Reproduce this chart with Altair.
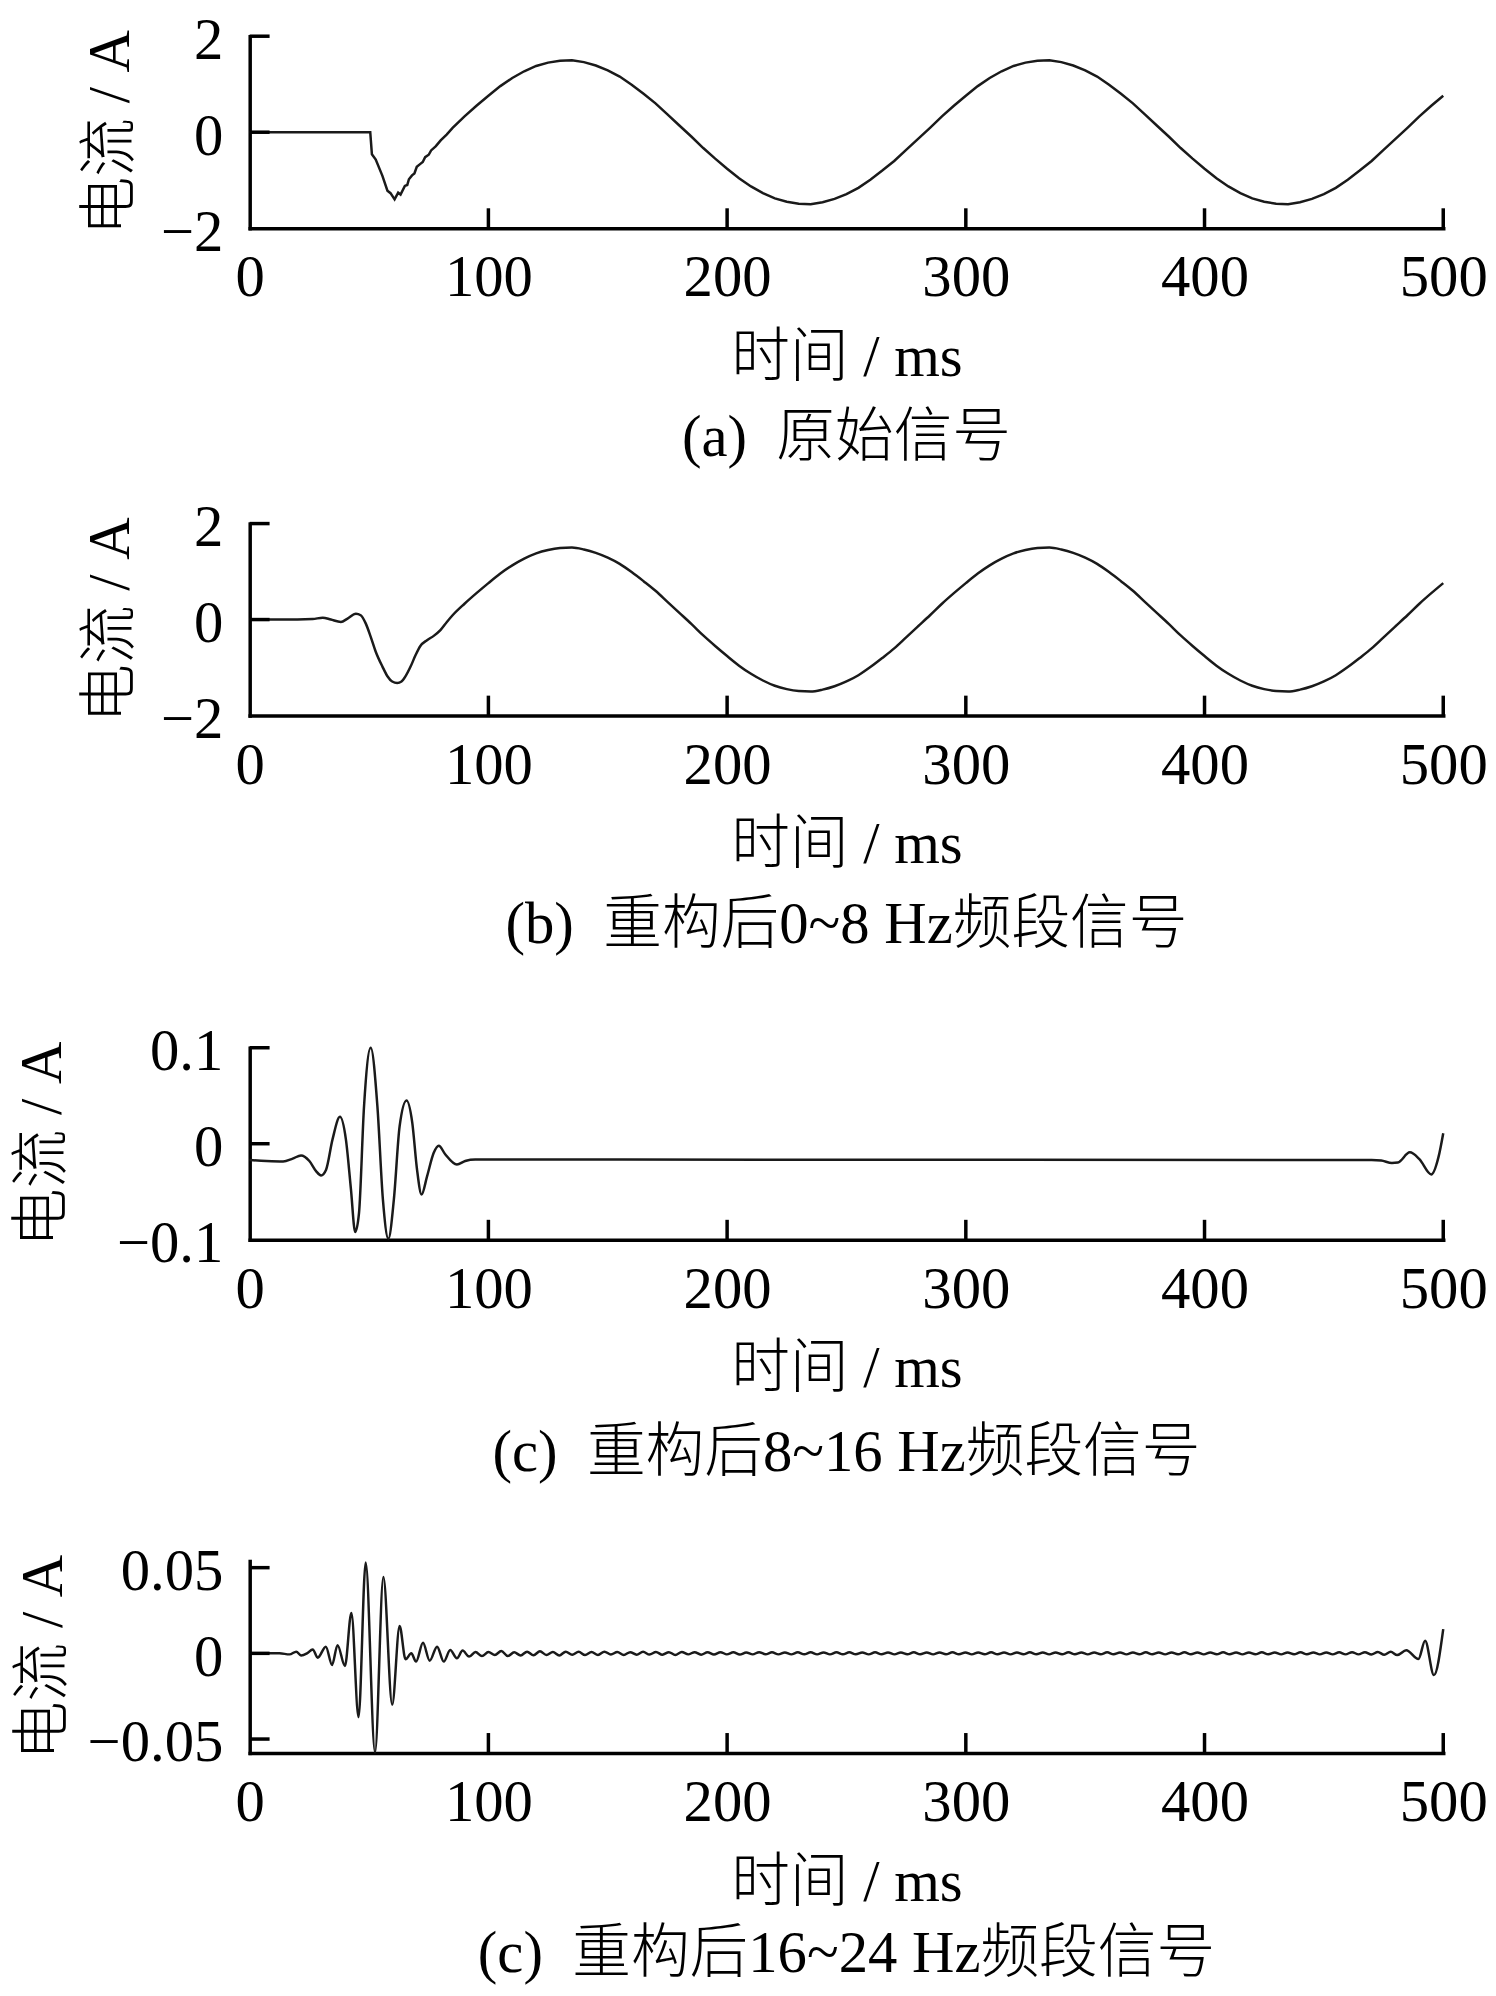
import altair as alt
import pandas as pd

FONT = "Liberation Serif, Noto Sans CJK SC"
FS = 59
W = 1200
H = 193
TICK_PX = 20
LINE = "#1a1a1a"

X_TICKS = [0, 100, 200, 300, 400, 500]
X_INNER = [100, 200, 300, 400, 500]

# ---------------- panel (a) original signal ----------------
T_A = [0, 50.5, 51.2, 52.8, 55.6, 57.7, 59.0, 60.7, 62.2, 63.2, 65.0, 66.0, 66.7, 68.0, 69.0,
       70.0, 71.5, 72.5, 73.5, 75.0, 76.0, 78.0, 80.0, 82.5,
       85, 90, 95, 100, 105, 110, 115, 120, 125, 130, 135, 140, 145, 150, 155, 160, 165, 170,
       175, 180, 185, 190, 195, 200, 205, 210, 215, 220, 225, 230, 235, 240, 245, 250, 255,
       260, 265, 270, 275, 280, 285, 290, 295, 300, 305, 310, 315, 320, 325, 330, 335, 340,
       345, 350, 355, 360, 365, 370, 375, 380, 385, 390, 395, 400, 405, 410, 415, 420, 425,
       430, 435, 440, 445, 450, 455, 460, 465, 470, 475, 480, 485, 490, 495, 500]
V_A = [0, 0, -0.46, -0.57, -0.91, -1.22, -1.27, -1.40, -1.26, -1.30, -1.12, -1.10, -0.98, -0.90, -0.86,
       -0.72, -0.66, -0.62, -0.52, -0.47, -0.38, -0.29, -0.17, -0.05,
       0.09, 0.33, 0.55, 0.76, 0.96, 1.13, 1.27, 1.38, 1.45, 1.49, 1.50, 1.46, 1.39, 1.29, 1.16,
       0.99, 0.80, 0.60, 0.37, 0.14, -0.09, -0.33, -0.55, -0.76, -0.96, -1.13, -1.27, -1.38,
       -1.45, -1.49, -1.50, -1.46, -1.39, -1.29, -1.16, -0.99, -0.80, -0.60, -0.37, -0.14,
       0.09, 0.33, 0.55, 0.76, 0.96, 1.13, 1.27, 1.38, 1.45, 1.49, 1.50, 1.46, 1.39, 1.29, 1.16,
       0.99, 0.80, 0.60, 0.37, 0.14, -0.09, -0.33, -0.55, -0.76, -0.96, -1.13, -1.27, -1.38,
       -1.45, -1.49, -1.50, -1.46, -1.39, -1.29, -1.16, -0.99, -0.80, -0.60, -0.37, -0.14,
       0.09, 0.33, 0.55, 0.76]

# ---------------- panel (b) 0~8 Hz ----------------
T_B = [0, 10, 20, 26.4, 30.6, 34.0, 38.2, 41.0, 44.5, 46.5, 48.6, 50.7, 52.8, 55.6, 57.7, 59.7,
       61.8, 63.6, 65.3, 67.4, 69.5, 71.5, 74.3, 77.1, 79.9, 82.6,
       85, 90, 95, 100, 105, 110, 115, 120, 125, 130, 135, 140, 145, 150, 155, 160, 165, 170,
       175, 180, 185, 190, 195, 200, 205, 210, 215, 220, 225, 230, 235, 240, 245, 250, 255,
       260, 265, 270, 275, 280, 285, 290, 295, 300, 305, 310, 315, 320, 325, 330, 335, 340,
       345, 350, 355, 360, 365, 370, 375, 380, 385, 390, 395, 400, 405, 410, 415, 420, 425,
       430, 435, 440, 445, 450, 455, 460, 465, 470, 475, 480, 485, 490, 495, 500]
V_B = [0, 0, 0, 0.01, 0.04, 0.0, -0.05, 0.02, 0.12, 0.09, -0.08, -0.36, -0.67, -0.98, -1.18, -1.29,
       -1.32, -1.29, -1.18, -0.98, -0.74, -0.55, -0.43, -0.34, -0.22, -0.05,
       0.09, 0.33, 0.55, 0.76, 0.96, 1.13, 1.27, 1.38, 1.45, 1.49, 1.50, 1.46, 1.39, 1.29, 1.16,
       0.99, 0.80, 0.60, 0.37, 0.14, -0.09, -0.33, -0.55, -0.76, -0.96, -1.13, -1.27, -1.38,
       -1.45, -1.49, -1.50, -1.46, -1.39, -1.29, -1.16, -0.99, -0.80, -0.60, -0.37, -0.14,
       0.09, 0.33, 0.55, 0.76, 0.96, 1.13, 1.27, 1.38, 1.45, 1.49, 1.50, 1.46, 1.39, 1.29, 1.16,
       0.99, 0.80, 0.60, 0.37, 0.14, -0.09, -0.33, -0.55, -0.76, -0.96, -1.13, -1.27, -1.38,
       -1.45, -1.49, -1.50, -1.46, -1.39, -1.29, -1.16, -0.99, -0.80, -0.60, -0.37, -0.14,
       0.09, 0.33, 0.55, 0.76]

# ---------------- panel (c) 8~16 Hz ----------------
T_C = [0, 7, 14, 18, 21.5, 25, 27.8, 29.9, 32, 34.7, 37.8, 40.3, 42.4, 44.2, 45.8, 47.9, 50.7,
       53.5, 55.8, 58.1, 60.4, 62.8, 65.7, 68.1, 70.1, 72.0, 74.3, 77.1, 79.2, 81.9, 86.8, 90.3,
       94.5, 470, 474, 478.5, 481, 486, 490, 495, 498, 500]
V_C = [-0.017, -0.018, -0.0185, -0.0155, -0.0122, -0.018, -0.0285, -0.033, -0.027, 0.0045, 0.028,
       0.0045, -0.047, -0.092, -0.072, 0.039, 0.100, 0.039, -0.058, -0.099, -0.058, 0.018, 0.045,
       0.022, -0.027, -0.053, -0.034, -0.0094, -0.002, -0.011, -0.0217, -0.018, -0.0165, -0.017,
       -0.0175, -0.020, -0.0195, -0.009, -0.016, -0.032, -0.014, 0.011]

# ---------------- panel (d) 16~24 Hz ----------------
T_D = [0, 8.5, 12.5, 16.7, 19.5, 21.5, 24.0, 26.4, 28.5, 31.9, 34.5, 36.8, 39.9, 42.6, 45.6, 48.6,
       52.5, 56.0, 59.7, 62.8, 65.3, 67.7, 69.7, 72.6, 75.4, 78.5, 81.3, 84.0, 86.8,
       89.2, 91.9, 94.6, 97.3, 100.0, 102.7, 105.4, 108.1, 110.8, 113.5,
       116.2, 118.9, 121.6, 124.3, 127.0, 129.7, 132.4, 135.1, 137.8, 140.5,
       143.2, 145.9, 148.6, 151.3, 154.0, 156.7, 159.4, 162.1, 164.8, 167.5,
       170.2, 172.9, 175.6, 178.3, 181.0, 183.7, 186.4, 189.1, 191.8, 194.5,
       197.2, 199.9, 202.6, 205.3, 208.0, 210.7, 213.4, 216.1, 218.8, 221.5,
       224.2, 226.9, 229.6, 232.3, 235.0, 237.7, 240.4, 243.1, 245.8, 248.5,
       251.2, 253.9, 256.6, 259.3, 262.0, 264.7, 267.4, 270.1, 272.8, 275.5,
       278.2, 280.9, 283.6, 286.3, 289.0, 291.7, 294.4, 297.1, 299.8, 302.5,
       305.2, 307.9, 310.6, 313.3, 316.0, 318.7, 321.4, 324.1, 326.8, 329.5,
       332.2, 334.9, 337.6, 340.3, 343.0, 345.7, 348.4, 351.1, 353.8, 356.5,
       359.2, 361.9, 364.6, 367.3, 370.0, 372.7, 375.4, 378.1, 380.8, 383.5,
       386.2, 388.9, 391.6, 394.3, 397.0, 399.7, 402.4, 405.1, 407.8, 410.5,
       413.2, 415.9, 418.6, 421.3, 424.0, 426.7, 429.4, 432.1, 434.8, 437.5,
       440.2, 442.9, 445.6, 448.3, 451.0, 453.7, 456.4, 459.1, 461.8, 464.5,
       467.2, 469.9, 472.6, 475.3, 478.0, 480.7,
       484.5, 489.6, 492.4, 496.1, 500]
V_D = [0, 0, 0, -0.0006, 0.0010, -0.0012, 0, 0.0023, -0.0025, 0.0039, -0.0068, 0.0048, -0.0074,
       0.0236, -0.0372, 0.0530, -0.0578, 0.0446, -0.0300, 0.0159, -0.0035, 0, -0.0048, 0.0062,
       -0.0043, 0.0039, -0.0048, 0.0019, -0.0029,
       0.0016, -0.0019, 0.0008, -0.0016, 0.0008, -0.0010, 0.0014, -0.0016, 0.0006, -0.0012,
       0.0010, -0.0011, 0.0012, -0.0009, 0.0008, -0.0012, 0.0010, -0.0008, 0.0009, -0.0010,
       0.0008, -0.0009, 0.0010, -0.0007, 0.0008, -0.0009, 0.0007, -0.0008, 0.0009, -0.0007,
       0.0008, -0.0008, 0.0007, -0.0009, 0.0008, -0.0006, 0.0007, -0.0008, 0.0006, -0.0007,
       0.0007, -0.0006, 0.0006, -0.0007, 0.0005, -0.0006, 0.0007, -0.0005, 0.0006, -0.0006,
       0.0005, -0.0006, 0.0006, -0.0005, 0.0006, -0.0006, 0.0005, -0.0006, 0.0006, -0.0005,
       0.0006, -0.0005, 0.0005, -0.0006, 0.0006, -0.0005, 0.0005, -0.0006, 0.0005, -0.0005,
       0.0006, -0.0005, 0.0005, -0.0006, 0.0005, -0.0005, 0.0006, -0.0005, 0.0005, -0.0006,
       0.0005, -0.0005, 0.0006, -0.0005, 0.0005, -0.0006, 0.0005, -0.0005, 0.0006, -0.0005,
       0.0005, -0.0006, 0.0005, -0.0005, 0.0006, -0.0005, 0.0005, -0.0006, 0.0005, -0.0005,
       0.0006, -0.0005, 0.0005, -0.0006, 0.0005, -0.0005, 0.0006, -0.0005, 0.0005, -0.0006,
       0.0005, -0.0005, 0.0006, -0.0005, 0.0005, -0.0006, 0.0005, -0.0005, 0.0006, -0.0005,
       0.0005, -0.0006, 0.0005, -0.0005, 0.0006, -0.0005, 0.0005, -0.0006, 0.0005, -0.0005,
       0.0006, -0.0005, 0.0005, -0.0006, 0.0005, -0.0006, 0.0006, -0.0006, 0.0007, -0.0006,
       0.0007, -0.0007, 0.0008, -0.0008, 0.0009, -0.0010,
       0.0018, -0.0033, 0.0074, -0.0127, 0.0141]

PANELS = [
    dict(t=T_A, v=V_A, dom=[-2, 2], vals=[-2, 0, 2], inner=[2, 0],
         cap="(a)\u00a0\u00a0原始信号", tx=-139.5, ext=0, off=22, interp="linear"),
    dict(t=T_B, v=V_B, dom=[-2, 2], vals=[-2, 0, 2], inner=[2, 0],
         cap="(b)\u00a0\u00a0重构后0~8 Hz频段信号", tx=-139.5, ext=56, off=22, interp="monotone"),
    dict(t=T_C, v=V_C, dom=[-0.1, 0.1], vals=[-0.1, 0, 0.1], inner=[0.1, 0],
         cap="(c)\u00a0\u00a0重构后8~16 Hz频段信号", tx=-208, ext=93, off=25.5, interp="monotone"),
    dict(t=T_D, v=V_D, dom=[-0.0581, 0.0539], vals=[-0.05, 0, 0.05], inner=[0.05, 0, -0.05],
         cap="(c)\u00a0\u00a0重构后16~24 Hz频段信号", tx=-207, ext=78, off=13, interp="monotone"),
]


def panel(p):
    df = pd.DataFrame({"t": p["t"], "v": p["v"]})
    y0, y1 = p["dom"]
    span = y1 - y0
    xs = alt.Scale(domain=[0, 500], nice=False, zero=False)
    ys = alt.Scale(domain=p["dom"], nice=False, zero=False)
    xaxis = alt.Axis(values=X_TICKS, title="时间 / ms", titleX=W / 2, titleY=130,
                     titleAlign="center", titleBaseline="middle")
    yaxis = alt.Axis(values=p["vals"], format="~g", title="电流 / A",
                     titleX=p["tx"], titleY=H / 2, titleAngle=270,
                     titleAlign="center", titleBaseline="middle")
    line = alt.Chart(df).mark_line(color=LINE, strokeWidth=2.5, interpolate=p["interp"]).encode(
        x=alt.X("t:Q", scale=xs, axis=xaxis),
        y=alt.Y("v:Q", scale=ys, axis=yaxis),
    )
    # inward x ticks
    xt_df = pd.DataFrame({"t": X_INNER})
    xt_df["ya"] = y0
    xt_df["yb"] = y0 + span * TICK_PX / H
    xt = alt.Chart(xt_df).mark_rule(color="black", strokeWidth=3.5).encode(
        x=alt.X("t:Q", scale=xs, axis=xaxis),
        y=alt.Y("ya:Q", scale=ys, axis=yaxis),
        y2="yb:Q",
    )
    # inward y ticks
    yt_df = pd.DataFrame({"v": p["inner"]})
    yt_df["xa"] = 0
    yt_df["xb"] = 500 * TICK_PX / W
    yt = alt.Chart(yt_df).mark_rule(color="black", strokeWidth=3.5).encode(
        x=alt.X("xa:Q", scale=xs, axis=xaxis),
        x2="xb:Q",
        y=alt.Y("v:Q", scale=ys, axis=yaxis),
    )
    layers = [line, xt, yt]
    if p["ext"] > 0:
        spacer = alt.Chart(pd.DataFrame({"s": [0]})).mark_rule(strokeOpacity=0, strokeWidth=0).encode(
            x=alt.value(0), y=alt.value(-p["ext"]), y2=alt.value(0)
        )
        layers.append(spacer)
    return alt.layer(*layers).properties(
        width=W, height=H,
        title=alt.TitleParams(p["cap"], orient="bottom", anchor="middle", frame="group",
                              offset=p["off"], font=FONT, fontSize=FS, fontWeight=300,
                              color="black"),
    )


chart = alt.vconcat(*[panel(p) for p in PANELS], spacing=0).properties(
    padding={"left": 6, "top": -2, "right": 0, "bottom": 4},
    background="white",
).configure_view(
    stroke="transparent", strokeWidth=0
).configure_axis(
    labelFont=FONT, titleFont=FONT, labelFontSize=FS, titleFontSize=FS,
    labelColor="black", titleColor="black", titleFontWeight=300, labelFontWeight=300,
    domainColor="black", domainWidth=3.5, domainCap="square",
    ticks=False, tickSize=0, grid=False, labelFlush=False, labelOverlap=False,
).configure_axisX(
    labelPadding=50, labelBaseline="middle",
).configure_axisY(
    labelPadding=27, labelOffset=4, labelBaseline="middle", labelAlign="right",
)

chart.save("out.html", embed_options={"renderer": "svg", "actions": False})
